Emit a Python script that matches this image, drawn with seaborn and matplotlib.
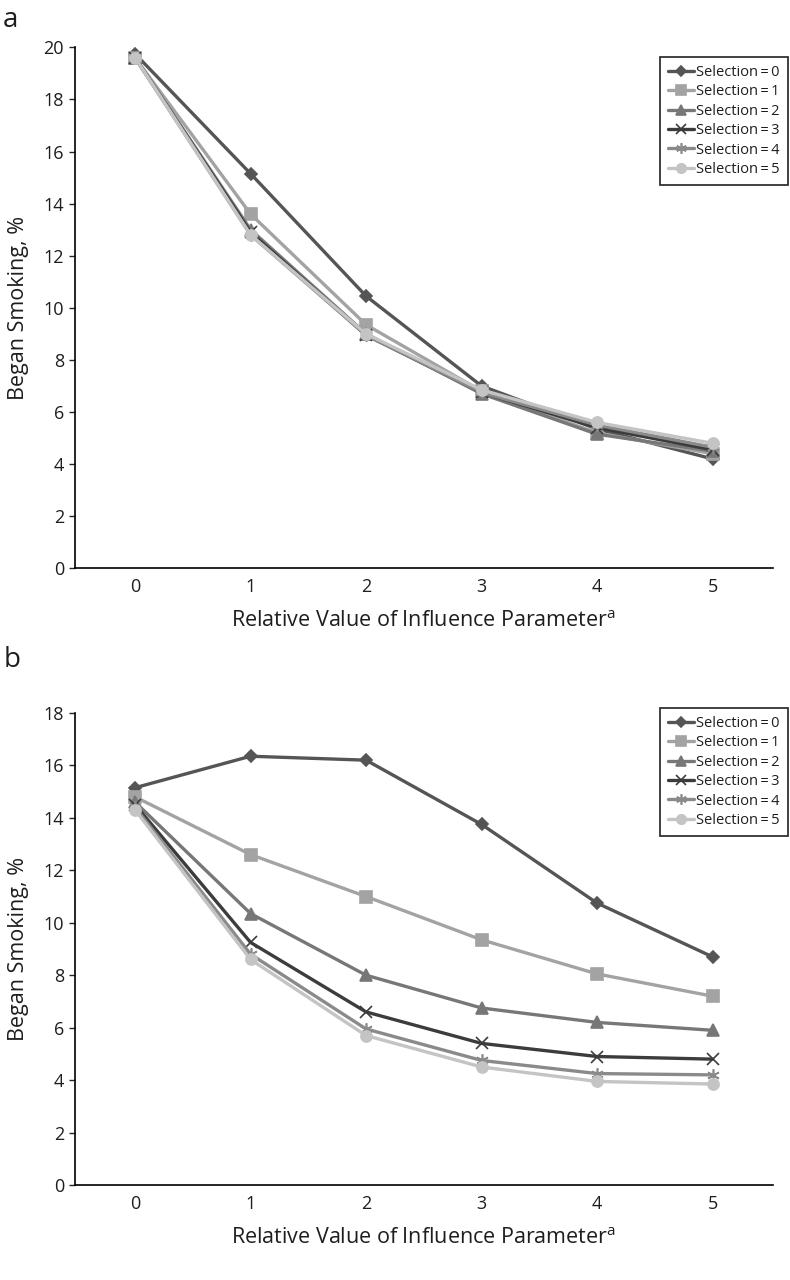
"""
Began smoking (%) by relative value of influence parameter,
two panels (a, b), one line per selection level.
"""

import numpy as np
import pandas as pd
import matplotlib
matplotlib.use('Agg')
import matplotlib.pyplot as plt
import seaborn as sns

# x positions (relative value of influence parameter)
influence = [0, 1, 2, 3, 4, 5]
selections = [0, 1, 2, 3, 4, 5]

# panel a values, one list per selection level
a_sel0 = [19.75, 15.15, 10.45, 7.0, 5.35, 4.2]
a_sel1 = [19.6, 13.6, 9.35, 6.8, 5.2, 4.4]
a_sel2 = [19.6, 13.0, 9.0, 6.7, 5.15, 4.5]
a_sel3 = [19.6, 12.9, 8.95, 6.75, 5.4, 4.55]
a_sel4 = [19.6, 12.8, 8.95, 6.75, 5.5, 4.65]
a_sel5 = [19.6, 12.8, 9.0, 6.85, 5.6, 4.8]

# panel b values
b_sel0 = [15.15, 16.35, 16.2, 13.75, 10.75, 8.7]
b_sel1 = [14.8, 12.6, 11.0, 9.35, 8.05, 7.2]
b_sel2 = [14.6, 10.35, 8.0, 6.75, 6.2, 5.9]
b_sel3 = [14.5, 9.25, 6.6, 5.4, 4.9, 4.8]
b_sel4 = [14.4, 8.8, 5.95, 4.75, 4.25, 4.2]
b_sel5 = [14.3, 8.6, 5.7, 4.5, 3.95, 3.85]

labels = [f'Selection\u2009=\u2009{s}' for s in selections]
colors = ['#555555', '#a3a3a3', '#777777', '#3c3c3c', '#8a8a8a', '#c4c4c4']
markers = ['D', 's', '^', 'x', (6, 2, 0), 'o']
msizes = [6, 8, 8, 9, 9, 8]

TEXT = '#1e1e1e'


def draw_panel(ax, series, ymax, legend_anchor, fig):
    # one lineplot call per selection level (filled and line markers can't mix)
    for lab, vals, c, m, ms in zip(labels, series, colors, markers, msizes):
        df = pd.DataFrame({'influence': influence, 'pct': vals})
        sns.lineplot(data=df, x='influence', y='pct', color=c, marker=m,
                     markersize=ms, markeredgecolor=c, markerfacecolor=c,
                     markeredgewidth=1.2, linewidth=2.4, ax=ax, label=lab)

    ax.set_xlim(-0.52, 5.52)
    ax.set_ylim(0, ymax)
    ax.set_xticks(influence)
    ax.set_yticks(np.arange(0, ymax + 1, 2))
    ax.spines['top'].set_visible(False)
    ax.spines['right'].set_visible(False)
    for sp in ['left', 'bottom']:
        ax.spines[sp].set_color('black')
        ax.spines[sp].set_linewidth(1.2)
    ax.tick_params(axis='y', direction='out', length=4, width=1, labelsize=13,
                   pad=4, left=True, labelcolor=TEXT)
    ax.tick_params(axis='x', length=0, labelsize=13, pad=7, labelcolor=TEXT)
    ax.set_ylabel('Began Smoking, %', fontsize=15.5, labelpad=10, color=TEXT)
    ax.set_xlabel('Relative Value of Influence Parameter$^{\\mathregular{a}}$',
                  fontsize=15.5, labelpad=11, color=TEXT)
    ax.grid(False)

    leg = ax.legend(loc='upper right', bbox_to_anchor=legend_anchor,
                    bbox_transform=fig.transFigure, borderaxespad=0, frameon=True,
                    fancybox=False, edgecolor='black', fontsize=10.5, handlelength=1.8,
                    handletextpad=0.15, labelspacing=0.3, borderpad=0.55,
                    markerscale=0.85, labelcolor=TEXT)
    leg.get_frame().set_linewidth(1.3)


def main():
    sns.set_theme(style='white')
    plt.rcParams['font.family'] = ['Open Sans', 'DejaVu Sans']
    plt.rcParams['mathtext.fontset'] = 'custom'
    plt.rcParams['mathtext.rm'] = 'Open Sans'

    fig = plt.figure(figsize=(7.9, 12.8), dpi=100)
    ax_a = fig.add_axes([0.095, 0.556, 0.883, 0.407])
    ax_b = fig.add_axes([0.095, 0.0742, 0.883, 0.3688])

    draw_panel(ax_a, [a_sel0, a_sel1, a_sel2, a_sel3, a_sel4, a_sel5], 20,
               (788 / 790, 1 - 57 / 1280), fig)
    draw_panel(ax_b, [b_sel0, b_sel1, b_sel2, b_sel3, b_sel4, b_sel5], 18,
               (788 / 790, 1 - 708 / 1280), fig)

    fig.text(0.004, 0.984, 'a', fontsize=20, va='center', color=TEXT)
    fig.text(0.004, 0.484, 'b', fontsize=20, va='center', color=TEXT)

    fig.savefig('out.png', dpi=100)
    plt.close(fig)


if __name__ == '__main__':
    main()
